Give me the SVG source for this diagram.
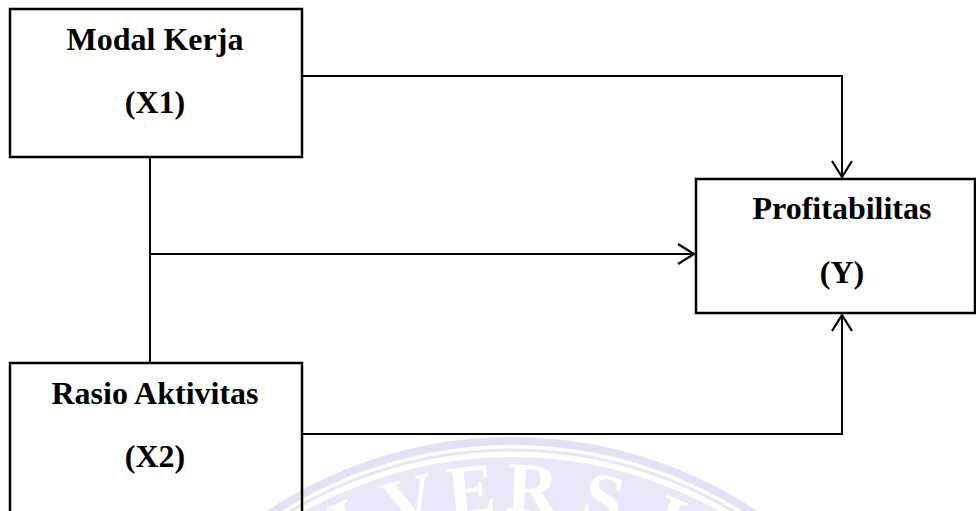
<svg xmlns="http://www.w3.org/2000/svg" width="976" height="511" viewBox="0 0 976 511">
  <style>
    .box { fill: none; stroke: #000; stroke-width: 2.5; }
    .lbl { font-family: "Liberation Serif", "Times New Roman", serif; font-weight: bold; font-size: 32px; fill: #000; text-anchor: middle; }
    .conn { fill: none; stroke: #000; stroke-width: 2; }
    .wm-letter { font-family: "Liberation Serif", "Times New Roman", serif; font-weight: bold; font-size: 72px; fill: #ffffff; text-anchor: middle; }
  </style>
  <defs>
    <marker id="arrow" viewBox="-18 -12 20 24" markerWidth="20" markerHeight="24" refX="0" refY="0" markerUnits="userSpaceOnUse" orient="auto" overflow="visible">
      <path d="M-16,-10 L0,0 L-16,10" fill="none" stroke="#000" stroke-width="2.2"/>
    </marker>
  </defs>
  <rect width="976" height="511" fill="#ffffff"/>

  <g id="watermark">
    <circle cx="512" cy="880" r="439" fill="none" stroke="#e2e2f6" stroke-width="8"/>
    <circle cx="512" cy="880" r="430" fill="none" stroke="#e6e6f7" stroke-width="3"/>
    <circle cx="512" cy="880" r="390" fill="none" stroke="#e8e8f8" stroke-width="66"/>
    <text class="wm-letter" x="512" y="512" transform="rotate(-35 512 880)">N</text>
    <text class="wm-letter" x="512" y="512" transform="rotate(-25 512 880)">I</text>
    <text class="wm-letter" x="512" y="512" transform="rotate(-15.1 512 880)">V</text>
    <text class="wm-letter" x="512" y="512" transform="rotate(-6 512 880)">E</text>
    <text class="wm-letter" x="512" y="512" transform="rotate(3 512 880)">R</text>
    <text class="wm-letter" x="512" y="512" transform="rotate(13.5 512 880)">S</text>
    <text class="wm-letter" x="512" y="512" transform="rotate(23.5 512 880)">I</text>
    <text class="wm-letter" x="512" y="512" transform="rotate(33 512 880)">T</text>
  </g>

  <g id="connectors">
    <path class="conn" d="M302,76 H842 V177" marker-end="url(#arrow)"/>
    <path class="conn" d="M150,157 V363"/>
    <path class="conn" d="M150,254 H694" marker-end="url(#arrow)"/>
    <path class="conn" d="M302,434 H842 V315" marker-end="url(#arrow)"/>
  </g>

  <g id="node-x1">
    <rect class="box" x="10" y="9" width="292" height="148"/>
    <text class="lbl" x="155" y="50">Modal Kerja</text>
    <text class="lbl" x="155" y="113">(X1)</text>
  </g>

  <g id="node-y">
    <rect class="box" x="696" y="179" width="279" height="134"/>
    <text class="lbl" x="842" y="219">Profitabilitas</text>
    <text class="lbl" x="842" y="283">(Y)</text>
  </g>

  <g id="node-x2">
    <rect class="box" x="10" y="363" width="292" height="170"/>
    <text class="lbl" x="155" y="404">Rasio Aktivitas</text>
    <text class="lbl" x="155" y="467">(X2)</text>
  </g>
</svg>
